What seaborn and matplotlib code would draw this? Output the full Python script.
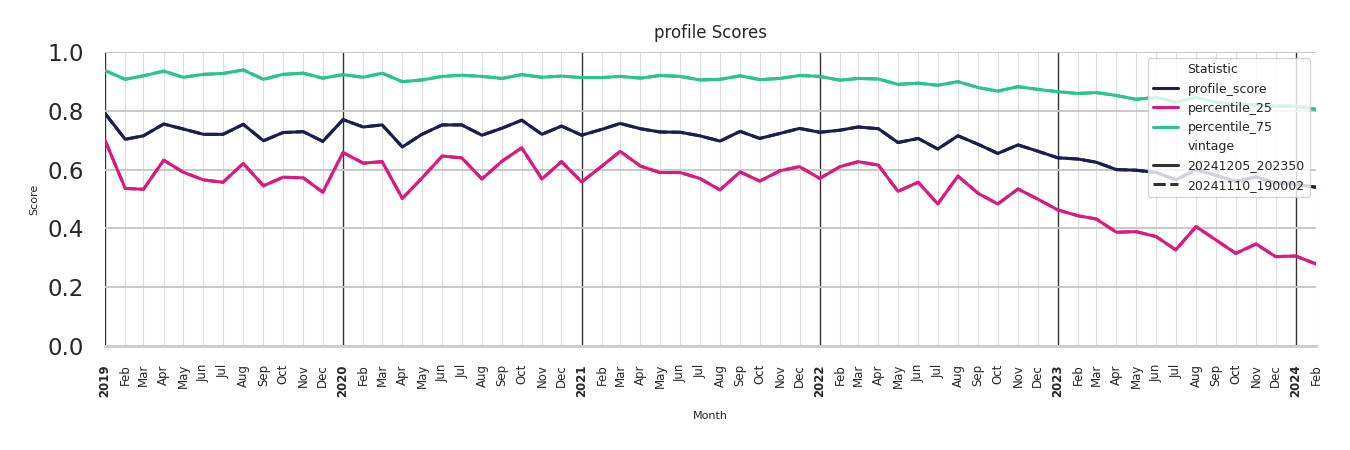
import numpy as np
import pandas as pd
import matplotlib
matplotlib.use("Agg")
import matplotlib.pyplot as plt
import matplotlib.dates as mdates
import seaborn as sns

months = pd.date_range("2019-01-01", "2024-02-01", freq="MS")

profile_score = [
    0.791, 0.703, 0.715, 0.755, 0.738, 0.720, 0.720, 0.754, 0.698, 0.726, 0.729, 0.696,
    0.770, 0.745, 0.752, 0.677, 0.720, 0.752, 0.752, 0.717, 0.741, 0.768, 0.720, 0.748,
    0.717, 0.737, 0.757, 0.739, 0.728, 0.727, 0.715, 0.697, 0.730, 0.706, 0.723, 0.740,
    0.727, 0.734, 0.745, 0.739, 0.692, 0.706, 0.670, 0.715, 0.686, 0.655, 0.684, 0.663,
    0.640, 0.636, 0.625, 0.600, 0.598, 0.590, 0.565, 0.600, 0.580, 0.560, 0.575, 0.555,
    0.550, 0.540,
]
percentile_25 = [
    0.700, 0.536, 0.533, 0.632, 0.591, 0.565, 0.557, 0.621, 0.545, 0.574, 0.572, 0.523,
    0.658, 0.622, 0.627, 0.502, 0.571, 0.646, 0.640, 0.568, 0.629, 0.674, 0.568, 0.627,
    0.558, 0.612, 0.662, 0.612, 0.590, 0.590, 0.570, 0.531, 0.592, 0.561, 0.596, 0.610,
    0.570, 0.610, 0.627, 0.615, 0.526, 0.557, 0.483, 0.578, 0.519, 0.483, 0.534, 0.500,
    0.463, 0.443, 0.432, 0.387, 0.389, 0.372, 0.327, 0.406, 0.360, 0.315, 0.347, 0.304,
    0.306, 0.279,
]
percentile_75 = [
    0.937, 0.907, 0.919, 0.935, 0.914, 0.924, 0.927, 0.939, 0.907, 0.924, 0.928, 0.911,
    0.923, 0.914, 0.928, 0.899, 0.905, 0.917, 0.921, 0.917, 0.910, 0.923, 0.914, 0.918,
    0.913, 0.913, 0.917, 0.911, 0.920, 0.917, 0.905, 0.907, 0.919, 0.906, 0.910, 0.920,
    0.917, 0.904, 0.910, 0.908, 0.890, 0.894, 0.887, 0.899, 0.879, 0.867, 0.882, 0.873,
    0.865, 0.859, 0.862, 0.852, 0.839, 0.846, 0.829, 0.846, 0.829, 0.822, 0.820, 0.816,
    0.816, 0.805,
]
statistics = ["profile_score", "percentile_25", "percentile_75"]
vintages = ["20241205_202350", "20241110_190002"]
colors = ["#1C1E4E", "#DA1A80", "#29C48F"]

series = {"profile_score": profile_score,
          "percentile_25": percentile_25,
          "percentile_75": percentile_75}
frames = []
for vin in vintages[::-1]:
    for stat in statistics:
        frames.append(pd.DataFrame({"Month": months, "Score": series[stat],
                                    "Statistic": stat, "vintage": vin}))
df = pd.concat(frames, ignore_index=True)

sns.set_theme(style="whitegrid")
plt.rcParams['font.family'] = ['DejaVu Sans']

fig = plt.figure(figsize=(13.5, 4.5), dpi=100)
ax = fig.add_axes([105/1350, 1-346/450, (1316-105)/1350, (346-52)/450])

sns.lineplot(data=df, x="Month", y="Score", hue="Statistic", style="vintage",
             hue_order=statistics, style_order=vintages,
             palette=colors, linewidth=2.2, ax=ax)

ax.set_xlim(months[0], months[-1])
ax.set_ylim(0, 1)
ax.set_yticks([0, 0.2, 0.4, 0.6, 0.8, 1.0])
ax.set_yticklabels(["0.0", "0.2", "0.4", "0.6", "0.8", "1.0"], fontsize=16.5)
ax.tick_params(axis="y", length=0, pad=15)

ax.xaxis.set_major_locator(mdates.YearLocator())
ax.xaxis.set_major_formatter(mdates.DateFormatter("%Y"))
ax.xaxis.set_minor_locator(mdates.MonthLocator(bymonth=range(2, 13)))
ax.xaxis.set_minor_formatter(mdates.DateFormatter("%b"))
for lab in ax.get_xticklabels(which="major"):
    lab.set_rotation(90)
    lab.set_fontweight("bold")
    lab.set_fontsize(8.5)
for lab in ax.get_xticklabels(which="minor"):
    lab.set_rotation(90)
    lab.set_fontsize(8.5)
ax.tick_params(axis="x", which="both", length=0, pad=13)

ax.grid(True, axis="y", which="major", color="#c8c8c8", linewidth=1.4)
ax.grid(True, axis="x", which="major", color="#333333", linewidth=1.0)
ax.grid(True, axis="x", which="minor", color="#dddddd", linewidth=0.8)
ax.set_axisbelow(True)

sns.despine(ax=ax, top=True, right=True, left=True)
ax.spines["bottom"].set_color("#cccccc")
ax.spines["bottom"].set_linewidth(2)

ax.set_xlabel("Month", fontsize=8, labelpad=10)
ax.set_ylabel("Score", fontsize=8, labelpad=6)
ax.set_title("profile Scores", fontsize=12, pad=10)

leg = ax.legend(loc="upper right", fontsize=9, framealpha=0.8)

fig.savefig("out.png", dpi=100)
